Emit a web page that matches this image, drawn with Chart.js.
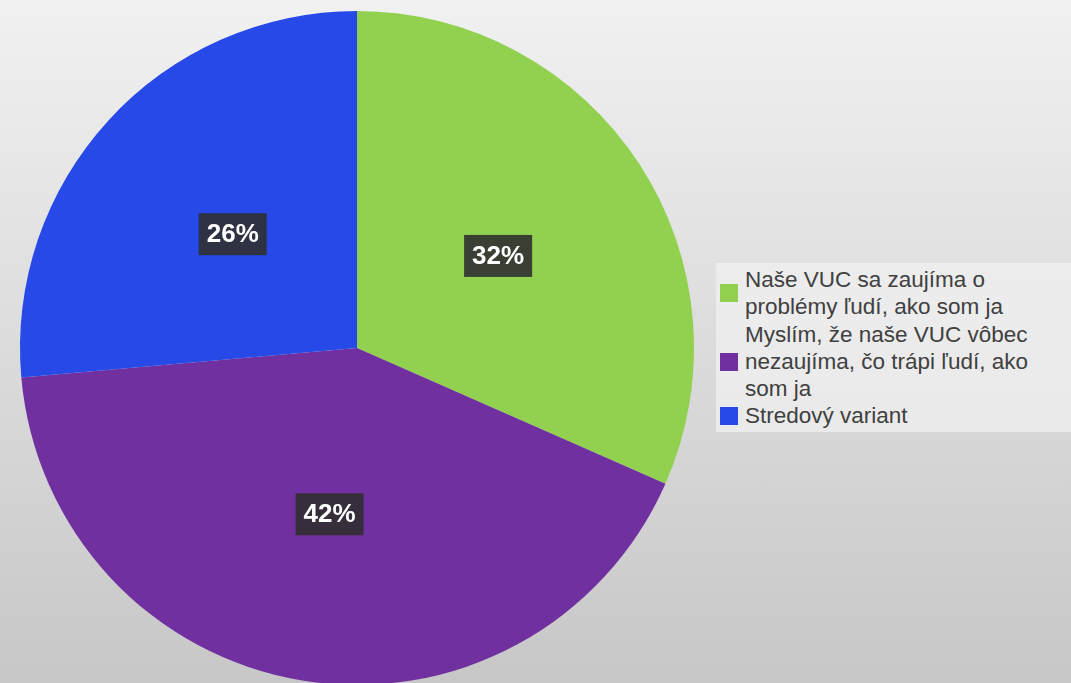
<!DOCTYPE html>
<html>
<head>
<meta charset="utf-8">
<script src="https://cdn.jsdelivr.net/npm/chart.js@4/dist/chart.umd.min.js"></script>
<style>
  html, body { margin: 0; padding: 0; width: 1071px; height: 683px; overflow: hidden; }
  body { background: linear-gradient(to bottom, #f1f1f1 0%, #dcdcdc 50%, #c7c7c7 100%); position: relative; font-family: "Liberation Sans", Arial, sans-serif; }
  #c { position: absolute; left: 0; top: 11px; }
  #legend { position: absolute; left: 716px; top: 263px; width: 355px; height: 169px; background: rgba(240,240,240,0.75); box-sizing: border-box; padding: 3px 0 0 0; }
  .item { display: flex; align-items: center; }
  .sw { width: 18px; height: 18px; margin: 0 7px 0 4px; flex: none; }
  .tx { width: 318px; font-size: 22.5px; line-height: 27.3px; color: #404040; }
</style>
</head>
<body>
<canvas id="c" width="714" height="674"></canvas>
<div id="legend"></div>
<script>
const categories = [
  "Naše VUC sa zaujíma o problémy ľudí, ako som ja",
  "Myslím, že naše VUC vôbec nezaujíma, čo trápi ľudí, ako som ja",
  "Stredový variant"
];
const values = [31.6, 42.0, 26.4];
const colors = ["#92d050", "#7030a0", "#2649e8"];

const labelPlugin = {
  id: 'pctLabels',
  afterDatasetsDraw(chart) {
    const ctx = chart.ctx;
    const meta = chart.getDatasetMeta(0);
    const total = values.reduce((a, b) => a + b, 0);
    ctx.save();
    ctx.font = 'bold 26px "Liberation Sans", Arial, sans-serif';
    ctx.textAlign = 'center';
    ctx.textBaseline = 'middle';
    meta.data.forEach((arc, i) => {
      const p = arc.tooltipPosition();
      const txt = Math.round(values[i] / total * 100) + '%';
      const w = ctx.measureText(txt).width + 16;
      const h = 42;
      ctx.fillStyle = 'rgba(48,48,48,0.9)';
      ctx.fillRect(p.x - w / 2, p.y - h / 2, w, h);
      ctx.fillStyle = '#ffffff';
      ctx.fillText(txt, p.x, p.y + 1);
    });
    ctx.restore();
  }
};

new Chart(document.getElementById('c'), {
  type: 'pie',
  data: {
    labels: categories,
    datasets: [{ data: values, backgroundColor: colors, borderWidth: 0 }]
  },
  options: {
    responsive: false,
    animation: false,
    layout: { padding: 0 },
    plugins: { legend: { display: false }, tooltip: { enabled: false } }
  },
  plugins: [labelPlugin]
});

const lg = document.getElementById('legend');
categories.forEach((c, i) => {
  const it = document.createElement('div');
  it.className = 'item';
  const sw = document.createElement('div');
  sw.className = 'sw';
  sw.style.background = colors[i];
  const tx = document.createElement('div');
  tx.className = 'tx';
  tx.textContent = c;
  it.appendChild(sw); it.appendChild(tx);
  lg.appendChild(it);
});
</script>
</body>
</html>
